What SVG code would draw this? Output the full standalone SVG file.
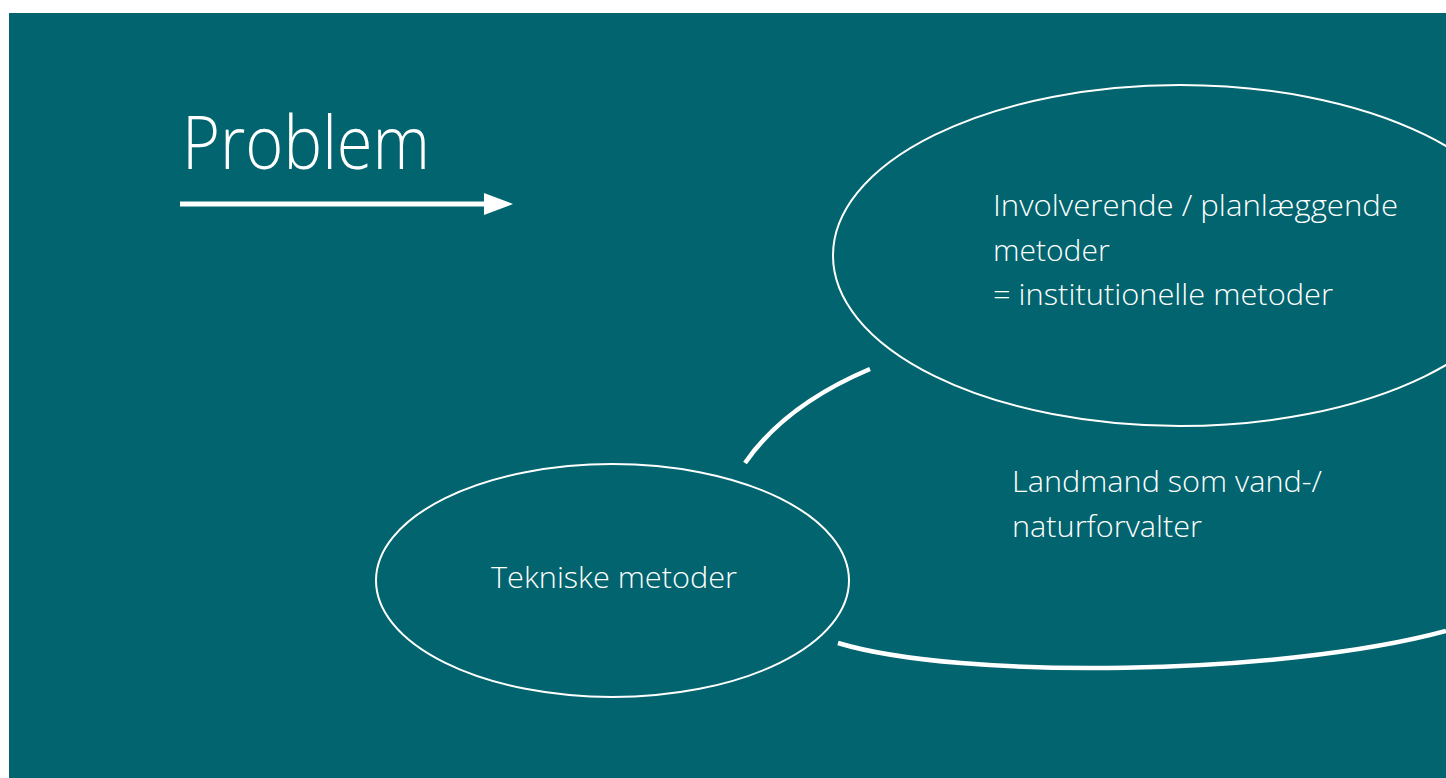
<svg xmlns="http://www.w3.org/2000/svg" width="1446" height="778" viewBox="0 0 1446 778">
  <style>
    .bg { fill: #01646e; }
    .node { fill: none; stroke: #ffffff; stroke-width: 2; }
    .link { fill: none; stroke: #ffffff; stroke-width: 4.5; }
    .lbl { font-family: "Open Sans", "Lato", "Liberation Sans", sans-serif; font-weight: 300; fill: #ffffff; }
  </style>
  <defs>
    <marker id="arrowhead" markerUnits="userSpaceOnUse" markerWidth="30" markerHeight="22" refX="0" refY="11" orient="auto">
      <path d="M0,0 L29,11 L0,22 Z" fill="#ffffff"/>
    </marker>
  </defs>
  <rect x="0" y="0" width="1446" height="778" fill="#ffffff"/>
  <rect class="bg" x="9" y="13" width="1437" height="765"/>

  <g id="title">
    <text class="lbl" x="182" y="169" font-size="74" textLength="248" lengthAdjust="spacingAndGlyphs">Problem</text>
  </g>

  <g id="connectors">
    <line x1="180" y1="204" x2="484" y2="204" stroke="#ffffff" stroke-width="5" marker-end="url(#arrowhead)"/>
    <path class="link" d="M745,463 Q785,405 870,369"/>
    <path class="link" d="M838,643 C960,680 1280,676 1446,631"/>
  </g>

  <g id="node-institutionelle">
    <ellipse class="node" cx="1180" cy="255.5" rx="347" ry="170.5"/>
    <text class="lbl" font-size="30">
      <tspan x="993" y="216" textLength="405" lengthAdjust="spacingAndGlyphs">Involverende / planlæggende</tspan>
      <tspan x="993" y="261">metoder</tspan>
      <tspan x="993" y="305" textLength="340" lengthAdjust="spacingAndGlyphs">= institutionelle metoder</tspan>
    </text>
  </g>

  <g id="node-landmand">
    <text class="lbl" font-size="30">
      <tspan x="1012" y="492" textLength="310" lengthAdjust="spacingAndGlyphs">Landmand som vand-/</tspan>
      <tspan x="1012" y="537" textLength="190" lengthAdjust="spacingAndGlyphs">naturforvalter</tspan>
    </text>
  </g>

  <g id="node-tekniske">
    <ellipse class="node" cx="612.5" cy="580.5" rx="236.5" ry="116.5"/>
    <text class="lbl" x="491" y="588" font-size="30" textLength="246" lengthAdjust="spacingAndGlyphs">Tekniske metoder</text>
  </g>
</svg>
